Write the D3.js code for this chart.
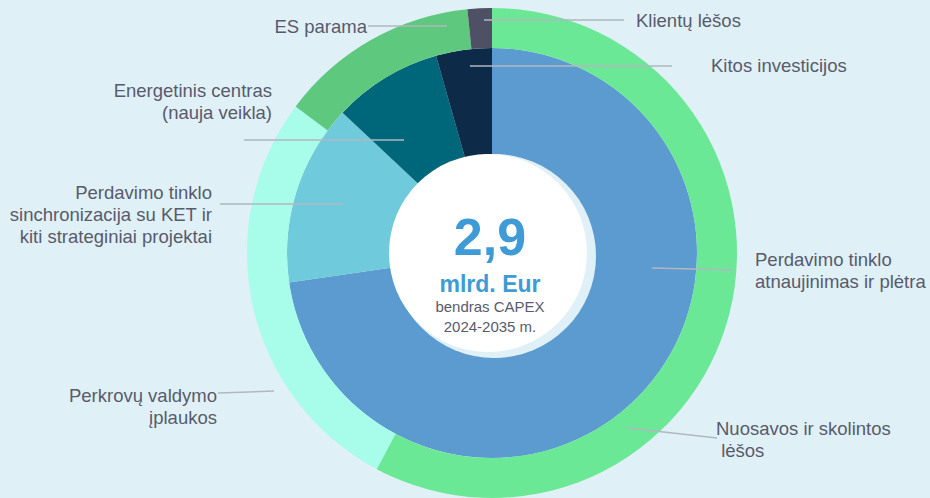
<!DOCTYPE html>
<html>
<head>
<meta charset="utf-8">
<script src="https://cdn.jsdelivr.net/npm/d3@7"></script>
<style>
  html, body { margin: 0; padding: 0; background: #e0f0f7; }
  svg { display: block; }
  .label { font-family: "Liberation Sans", Arial, sans-serif; font-size: 18.5px; fill: #585b6c; white-space: pre; }
  .leader { stroke: #b3b6c0; stroke-width: 1.5; fill: none; }
</style>
</head>
<body>
<div id="chart"></div>
<script>
// išorinis žiedas: finansavimo šaltiniai (%)
const fundingNames = ["Nuosavos ir skolintos lėšos", "Perkrovų valdymo įplaukos", "ES parama", "Klientų lėšos"];
const fundingValues = [57.8, 27.4, 13.2, 1.6];
const fundingColors = ["#6be895", "#a7fde9", "#5dc87e", "#4e5165"];

// vidinis skritulys: investicijų kryptys (%)
const investNames = ["Perdavimo tinklo atnaujinimas ir plėtra", "Perdavimo tinklo sinchronizacija su KET ir kiti strateginiai projektai", "Energetinis centras (nauja veikla)", "Kitos investicijos"];
const investValues = [72.7, 14.3, 8.6, 4.4];
const investColors = ["#5b9bcf", "#6fcadb", "#006679", "#0d2b48"];

const totalValue = "2,9";
const totalUnit = "mlrd. Eur";
const totalNote = ["bendras CAPEX", "2024-2035 m."];

const width = 930, height = 498;
const cx = 492, cy = 253;
const rInner = 205, rOuter = 245;

const svg = d3.select("#chart").append("svg")
  .attr("width", width)
  .attr("height", height);

svg.append("rect").attr("width", width).attr("height", height).attr("fill", "#e0f0f7");

const g = svg.append("g").attr("transform", `translate(${cx},${cy})`);

const pie = d3.pie().sort(null).value((d) => d);

const innerArc = d3.arc().innerRadius(0).outerRadius(rInner);
const outerArc = d3.arc().innerRadius(rInner).outerRadius(rOuter);

g.selectAll("path.invest")
  .data(pie(investValues))
  .join("path")
  .attr("class", "invest")
  .attr("d", innerArc)
  .attr("fill", (d, i) => investColors[i]);

g.selectAll("path.fund")
  .data(pie(fundingValues))
  .join("path")
  .attr("class", "fund")
  .attr("d", outerArc)
  .attr("fill", (d, i) => fundingColors[i]);

// centrinis apskritimas su šešėliu
g.append("circle").attr("cx", 2).attr("cy", 3).attr("r", 102).attr("fill", "#dff0f7");
g.append("circle").attr("cx", -4).attr("cy", 0).attr("r", 99).attr("fill", "#ffffff");

const font = '"Liberation Sans", Arial, sans-serif';
g.append("text")
  .attr("x", -2).attr("y", 2)
  .attr("text-anchor", "middle")
  .style("font-family", font).style("font-weight", "bold").style("font-size", "52px")
  .attr("fill", "#3f9bd5")
  .text(totalValue);
g.append("text")
  .attr("x", -2).attr("y", 39)
  .attr("text-anchor", "middle")
  .style("font-family", font).style("font-weight", "bold").style("font-size", "23px")
  .attr("fill", "#3f9bd5")
  .text(totalUnit);
g.selectAll("text.note")
  .data(totalNote)
  .join("text")
  .attr("class", "note")
  .attr("x", -2).attr("y", (d, i) => 59 + i * 20)
  .attr("text-anchor", "middle")
  .style("font-family", font).style("font-size", "15px")
  .attr("fill", "#585b6c")
  .text((d) => d);

// etikečių išdėstymas (linijos pradžia, pabaiga, teksto vieta)
const labelLayout = [
  { lines: ["Nuosavos ir skolintos", " lėšos"], from: [628, 428], to: [717, 438], x: 716, y: 435, anchor: "start" },
  { lines: ["Perkrovų valdymo", "įplaukos"], from: [274, 391], to: [218, 393], x: 217, y: 402, anchor: "end" },
  { lines: ["ES parama"], from: [447, 26], to: [368, 26], x: 367, y: 33, anchor: "end" },
  { lines: ["Klientų lėšos"], from: [484, 20], to: [624, 20], x: 636, y: 27, anchor: "start" },
  { lines: ["Perdavimo tinklo", "atnaujinimas ir plėtra"], from: [652, 268], to: [733, 270], x: 755, y: 266, anchor: "start" },
  { lines: ["Perdavimo tinklo", "sinchronizacija su KET ir", "kiti strateginiai projektai"], from: [343, 204], to: [220, 204], x: 212, y: 199, anchor: "end" },
  { lines: ["Energetinis centras", "(nauja veikla)"], from: [404, 140], to: [244, 140], x: 272, y: 97, anchor: "end" },
  { lines: ["Kitos investicijos"], from: [470, 66], to: [672, 66], x: 711, y: 72, anchor: "start" },
];

svg.selectAll("line.leader")
  .data(labelLayout)
  .join("line")
  .attr("class", "leader")
  .attr("x1", (d) => d.from[0]).attr("y1", (d) => d.from[1])
  .attr("x2", (d) => d.to[0]).attr("y2", (d) => d.to[1]);

const labels = svg.selectAll("text.label")
  .data(labelLayout)
  .join("text")
  .attr("class", "label")
  .attr("text-anchor", (d) => d.anchor);

labels.selectAll("tspan")
  .data((d) => d.lines.map((t, i) => ({ t, i, x: d.x, y: d.y })))
  .join("tspan")
  .attr("x", (d) => d.x)
  .attr("y", (d) => d.y + d.i * 22)
  .text((d) => d.t);
</script>
</body>
</html>
